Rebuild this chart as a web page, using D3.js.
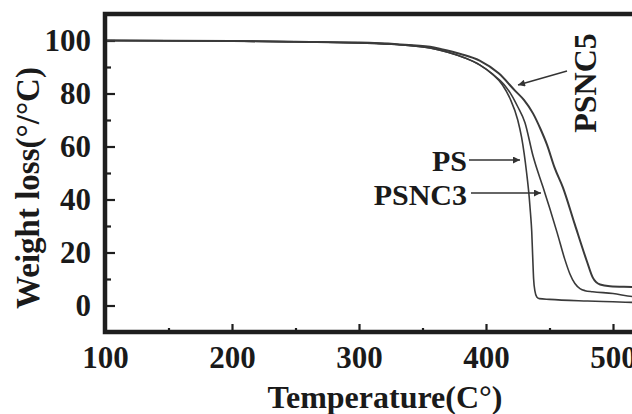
<!DOCTYPE html>
<html>
<head>
<meta charset="utf-8">
<script src="https://cdn.jsdelivr.net/npm/d3@7"></script>
<style>
html,body{margin:0;padding:0;background:#fff;}
svg{display:block;}
text{font-family:"Liberation Serif","Times New Roman",serif;font-weight:bold;fill:#1a1a1a;}
</style>
</head>
<body>
<svg id="chart" width="632" height="414"></svg>
<script>
// ---- data ----
const psT     = [100,200,250,300,330,356,370,383,395,405,413,419,425,428,430,432,434,435,436,436.8,437.5,438.5,440,442,450,480,500,520];
const psW     = [100,99.8,99.5,99.1,98.5,97.2,95.6,93.5,90.8,87.3,83.2,78.0,70.0,63.5,57.5,50.0,41.0,35.0,28.0,18.0,10.0,5.5,3.2,2.6,2.3,1.7,1.4,1.1];
const psnc3T  = [100,200,250,300,330,356,370,383,395,405,414,420,425,430.7,437,445,450,456,462,466,470,474,478,484,500,515,520];
const psnc3W  = [100,99.8,99.5,99.1,98.5,97.2,95.6,93.5,90.8,87.4,83.5,79.5,75.0,69.0,56.5,44.5,37.0,27.5,17.5,12.0,8.3,6.4,5.6,5.2,4.5,3.4,3.2];
const psnc5T  = [100,200,250,300,330,356,365,380,395,410,423,430,437,443,448,454,460.6,470,479.5,484,489.8,497.6,515,520];
const psnc5W  = [100,99.8,99.5,99.2,98.6,97.6,96.7,94.9,92.4,87.6,81.0,77.5,72.5,66.5,60.7,52.0,44.5,30.5,16.6,10.6,7.9,7.3,7.0,6.9];

const xMajor = [100,200,300,400,500];
const xMinor = [150,250,350,450];
const yMajor = [0,20,40,60,80,100];
const yMinor = [10,30,50,70,90];

const seriesNames = ["PS","PSNC3","PSNC5"];
const xTitle = "Temperature(C°)";
const yTitle = "Weight loss(°/°C)";

// ---- layout ----
const svg = d3.select("#chart");
const mLeft = 105, mTop = 14, mBottom = 332;
const x = d3.scaleLinear().domain([100, 600]).range([mLeft, mLeft + 500 * 1.27]);
const y = d3.scaleLinear().domain([-10, 110]).range([mBottom, mTop]);
const ink = "#1e1e1e";

const xAxisMaj = d3.axisBottom(x).tickValues(xMajor).tickSize(-8).tickPadding(14).tickFormat(d3.format("d"));
const xAxisMin = d3.axisBottom(x).tickValues(xMinor).tickSize(-4).tickFormat("");
const yAxisMaj = d3.axisLeft(y).tickValues(yMajor).tickSize(-10).tickPadding(14).tickFormat(d3.format("d"));
const yAxisMin = d3.axisLeft(y).tickValues(yMinor).tickSize(-6).tickFormat("");

function styleAxis(g){
  g.select(".domain").remove();
  g.selectAll(".tick line").attr("stroke", ink).attr("stroke-width", 2.2);
  g.selectAll(".tick text").attr("fill", ink).style("font-size","31px")
    .style("font-family",'"Liberation Serif",serif').style("font-weight","bold");
}
svg.append("g").attr("transform",`translate(0,${mBottom})`).call(xAxisMaj).call(styleAxis);
svg.append("g").attr("transform",`translate(0,${mBottom})`).call(xAxisMin).call(styleAxis);
svg.append("g").attr("transform",`translate(${mLeft},0)`).call(yAxisMaj).call(styleAxis);
svg.append("g").attr("transform",`translate(${mLeft},0)`).call(yAxisMin).call(styleAxis);

// frame (left, top, bottom; right side is cropped out)
svg.append("path")
  .attr("d", `M${x(600)},${y(110)}H${x(100)}V${y(-10)}H${x(600)}`)
  .attr("fill","none").attr("stroke", ink).attr("stroke-width", 4.5);

// curves
const line = d3.line().x(d => x(d[0])).y(d => y(d[1])).curve(d3.curveMonotoneX);
const curves = [
  {T: psT, W: psW, w: 1.6},
  {T: psnc3T, W: psnc3W, w: 1.6},
  {T: psnc5T, W: psnc5W, w: 2.0}
];
svg.append("clipPath").attr("id","plotclip").append("rect")
  .attr("x", mLeft + 2).attr("y", mTop + 2).attr("width", 700).attr("height", mBottom - mTop - 4);
const plot = svg.append("g").attr("clip-path","url(#plotclip)");
curves.forEach(c => {
  plot.append("path")
    .datum(c.T.map((t,i) => [t, c.W[i]]))
    .attr("d", line)
    .attr("fill","none")
    .attr("stroke","#3a3a3a")
    .attr("stroke-width", c.w)
    .attr("stroke-linejoin","round");
});

// arrow marker
svg.append("defs").append("marker")
  .attr("id","arrow").attr("viewBox","0 0 10 10").attr("refX",10).attr("refY",5)
  .attr("markerWidth",7).attr("markerHeight",5).attr("orient","auto")
  .append("path").attr("d","M0,0L10,5L0,10z").attr("fill","#333");

const ann = [
  {name: seriesNames[0], tx: 467, ty: 160, from:[469, 160], to:[520, 160]},
  {name: seriesNames[1], tx: 467, ty: 194, from:[471, 193], to:[541, 193]}
];
ann.forEach(a => {
  svg.append("text").attr("x", a.tx).attr("y", a.ty + 11).attr("text-anchor","end")
    .style("font-size","30px").text(a.name);
  svg.append("line").attr("x1", a.from[0]).attr("y1", a.from[1]).attr("x2", a.to[0]).attr("y2", a.to[1])
    .attr("stroke","#333").attr("stroke-width",1.4).attr("marker-end","url(#arrow)");
});
svg.append("text")
  .attr("transform","translate(585,83) rotate(-90)")
  .attr("text-anchor","middle").attr("dominant-baseline","central")
  .style("font-size","32px").text(seriesNames[2]);
svg.append("line").attr("x1",567).attr("y1",71).attr("x2",518).attr("y2",85)
  .attr("stroke","#333").attr("stroke-width",1.4).attr("marker-end","url(#arrow)");

// axis titles
svg.append("text").attr("x", 385).attr("y", 397).attr("text-anchor","middle")
  .attr("dominant-baseline","central").style("font-size","32px").text(xTitle);
svg.append("text").attr("transform","translate(28,188) rotate(-90)")
  .attr("text-anchor","middle").attr("dominant-baseline","central")
  .style("font-size","33px").text(yTitle);
</script>
</body>
</html>
